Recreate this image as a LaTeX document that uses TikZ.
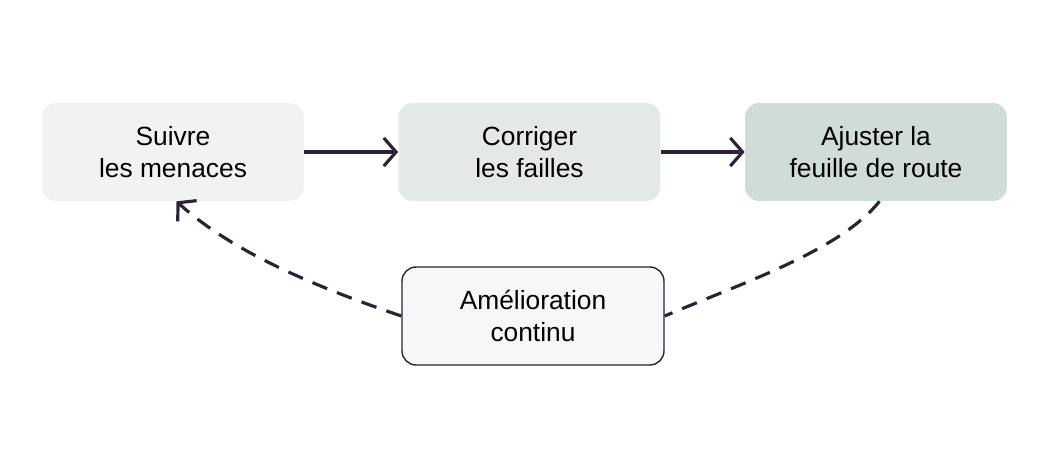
\documentclass[tikz,border=0pt]{standalone}
\usepackage{fontspec}
\setmainfont{Liberation Sans}
\usetikzlibrary{positioning, arrows.meta}
\definecolor{inkdark}{HTML}{2B2238}
\definecolor{stepone}{HTML}{F1F3F3}
\definecolor{steptwo}{HTML}{E4E9E7}
\definecolor{stepthree}{HTML}{D0DCD7}
\definecolor{loopfill}{HTML}{F6F7F8}
\tikzset{
phase/.style={rounded corners=8pt, minimum width=5.24cm, minimum height=1.96cm, align=center, font=\fontsize{15}{18}\selectfont, text=black},
flow/.style={-{Straight Barb[length=7pt, width=16pt, line width=1.8pt]}, line width=1.8pt, draw=inkdark},
loopback/.style={flow, dash pattern=on 9pt off 6pt},
}
\begin{document}
\begin{tikzpicture}[x=0.02cm, y=-0.02cm]
\useasboundingbox (0,0) rectangle (1049,468);
\node[phase, fill=stepone] (suivre) at (173,152) {Suivre\\les menaces};
\node[phase, fill=steptwo] (corriger) at (529.5,152) {Corriger\\les failles};
\node[phase, fill=stepthree] (ajuster) at (876,152) {Ajuster la\\feuille de route};
\node[phase, fill=loopfill, draw=inkdark, line width=0.8pt] (amelio) at (533,316) {Amélioration\\continu};
\draw[flow] (suivre) -- (corriger);
\draw[flow] (corriger) -- (ajuster);
\draw[loopback, -] ([xshift=2pt]ajuster.south) .. controls (840,250) and (750,280) .. (amelio.east);
\draw[loopback] (amelio.west) .. controls (310,285) and (230,250) .. ([xshift=2pt]suivre.south);
\end{tikzpicture}
\end{document}
